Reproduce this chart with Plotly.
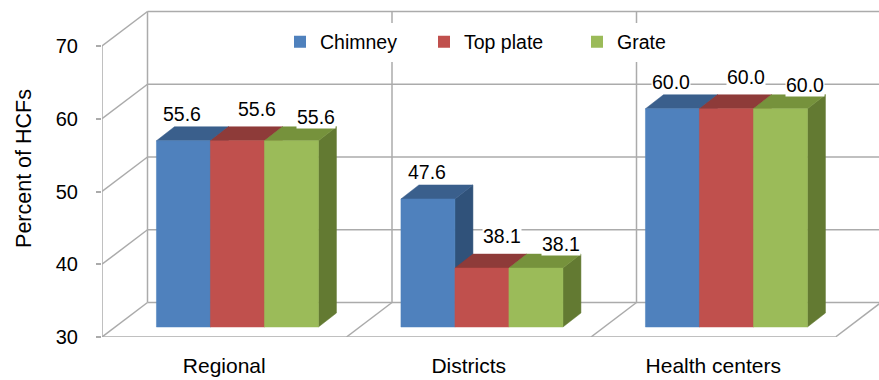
import plotly.graph_objects as go

# ---------------- data ----------------
categories = ["Regional", "Districts", "Health centers"]
chimney = [55.6, 47.6, 60.0]
top_plate = [55.6, 38.1, 60.0]
grate = [55.6, 38.1, 60.0]
series_names = ["Chimney", "Top plate", "Grate"]
y_ticks = [30, 40, 50, 60, 70]

series_values = [chimney, top_plate, grate]

# ---------------- styles ----------------
front_colors = ["#4F81BD", "#C0504D", "#9BBB59"]
top_colors = ["#3A5F8C", "#8E3B39", "#76923C"]
side_colors = ["#30527A", "#8A3532", "#637A32"]
grid_color = "#ABABAB"
FONT = "Liberation Sans, Arial, sans-serif"

W, H = 879, 380
ML, MR, MT, MB = 102, 0, 0, 43
CAT_PX = 244.5          # pixels per category on the front plane
Y_PX = 7.275            # pixels per value unit
y_min = y_ticks[0]
y_max_tick = y_ticks[-1]

# 3D projection offsets (axis units)
DEPTH_DX = 45.5 / CAT_PX
DEPTH_DY = 34.5 / Y_PX
FRONT_F = 10 / 34.5
FDX, FDY = FRONT_F * DEPTH_DX, FRONT_F * DEPTH_DY
BAR_DDX = 18 / CAT_PX
BAR_DDY = 14 / Y_PX
BAR_W = 54 / CAT_PX

x_range = [0, (W - ML - MR) / CAT_PX]
y_range = [y_min, y_min + (H - MT - MB) / Y_PX]
n_cat = len(categories)

# label offsets per series (px)
label_shift = [(-1, 27), (20, 32), (25, 24)]

fig = go.Figure()

# ---------------- walls / grid ----------------
gx, gy = [], []
for v in y_ticks:
    # back wall horizontal
    gx += [DEPTH_DX, n_cat + DEPTH_DX, None]
    gy += [v + DEPTH_DY, v + DEPTH_DY, None]
    # side wall diagonal
    gx += [0, DEPTH_DX, None]
    gy += [v, v + DEPTH_DY, None]
# front left axis
gx += [0, 0, None]
gy += [y_min, y_max_tick, None]
# back wall verticals
for k in range(n_cat + 1):
    gx += [k + DEPTH_DX, k + DEPTH_DX, None]
    gy += [y_min + DEPTH_DY, y_max_tick + DEPTH_DY, None]
# floor front line and diagonals
gx += [0, n_cat, None]
gy += [y_min, y_min, None]
for k in range(1, n_cat + 1):
    gx += [k, k + DEPTH_DX, None]
    gy += [y_min, y_min + DEPTH_DY, None]

fig.add_trace(go.Scatter(x=gx, y=gy, mode="lines",
                         line=dict(color=grid_color, width=1.5),
                         hoverinfo="skip", showlegend=False))

# ---------------- 3D bars ----------------
annotations = []
for j, vals in enumerate(series_values):
    sx, sy, tx, ty, fx, fy = [], [], [], [], [], []
    for i, v in enumerate(vals):
        xc = i + 0.5 + FDX + (j - 1) * BAR_W
        x0, x1 = xc - BAR_W / 2, xc + BAR_W / 2
        yb, yt = y_min + FDY, v + FDY
        # side face
        sx += [x1, x1, x1 + BAR_DDX, x1 + BAR_DDX, x1, None]
        sy += [yb, yt, yt + BAR_DDY, yb + BAR_DDY, yb, None]
        # top face
        tx += [x0, x1, x1 + BAR_DDX, x0 + BAR_DDX, x0, None]
        ty += [yt, yt, yt + BAR_DDY, yt + BAR_DDY, yt, None]
        # front face
        fx += [x0, x1, x1, x0, x0, None]
        fy += [yb, yb, yt, yt, yb, None]
        annotations.append(dict(
            x=xc, y=yt, xref="x", yref="y", text=f"{v:.1f}",
            showarrow=False, xshift=label_shift[j][0], yshift=label_shift[j][1],
            font=dict(family=FONT, size=19.5, color="#000000"),
            bgcolor="#FFFFFF", borderpad=0))
    for px_, py_, col in [(sx, sy, side_colors[j]), (tx, ty, top_colors[j]),
                          (fx, fy, front_colors[j])]:
        fig.add_trace(go.Scatter(x=px_, y=py_, mode="lines", fill="toself",
                                 fillcolor=col, line=dict(color=col, width=0.5),
                                 hoverinfo="skip", showlegend=False))

# ---------------- legends ----------------
legend_names = ["legend", "legend2", "legend3"]
legend_left_px = [280, 424, 577]
legend_y = 1 - 42 / (H - MT - MB)
for j, name in enumerate(series_names):
    fig.add_trace(go.Scatter(x=[None], y=[None], mode="markers", name=name,
                             marker=dict(symbol="square", size=12, color=front_colors[j]),
                             legend=legend_names[j], showlegend=True))

leg_common = dict(bgcolor="#FFFFFF", borderwidth=0, orientation="h",
                  yanchor="middle", xanchor="left",
                  font=dict(family=FONT, size=19.5, color="#000000"))
layout_legends = {}
for j, ln in enumerate(legend_names):
    layout_legends[ln] = dict(leg_common, x=(legend_left_px[j] - ML) / (W - ML - MR),
                              y=legend_y)

fig.update_layout(
    width=W, height=H,
    margin=dict(l=ML, r=MR, t=MT, b=MB, autoexpand=False),
    paper_bgcolor="#FFFFFF", plot_bgcolor="#FFFFFF",
    font=dict(family=FONT, color="#000000"),
    annotations=annotations,
    xaxis=dict(range=x_range, showgrid=False, zeroline=False, showline=False,
               tickvals=[i + 0.5 for i in range(n_cat)], ticktext=categories,
               ticks="", ticklabelstandoff=14,
               tickfont=dict(family=FONT, size=21, color="#000000"),
               fixedrange=True),
    yaxis=dict(range=y_range, showgrid=False, zeroline=False, showline=False,
               tickvals=y_ticks, ticks="outside", ticklen=5, tickwidth=1.5,
               tickcolor=grid_color, ticklabelstandoff=14,
               tickfont=dict(family=FONT, size=20, color="#000000"),
               title=dict(text="Percent of HCFs", standoff=18,
                          font=dict(family=FONT, size=21.5, color="#000000")),
               fixedrange=True),
    **layout_legends,
)

fig.write_html("out.html")
